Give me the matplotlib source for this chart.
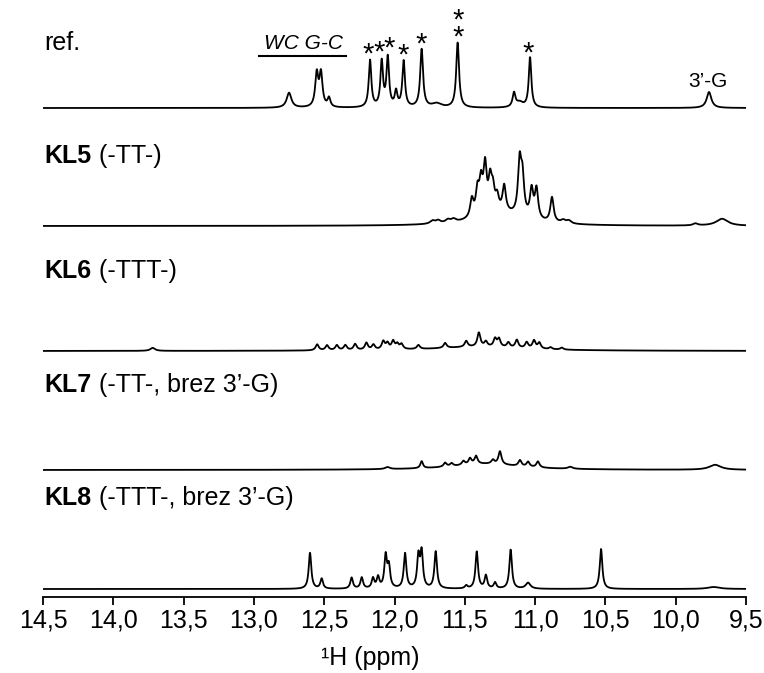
import matplotlib
matplotlib.use("Agg")
import matplotlib.pyplot as plt
import numpy as np

plt.rcParams['font.family'] = ['Liberation Sans', 'DejaVu Sans']

# Peak lists: position (ppm), height, half width (ppm)
ref_ppm = [12.750, 12.553, 12.523, 12.466, 12.174, 12.091, 12.048, 11.989, 11.935,
           11.807, 11.70, 11.551, 11.150, 11.11, 11.036, 9.763]
ref_h = [15, 33, 33, 9, 47, 45, 49, 15, 46, 58, 4, 65, 14, 5, 50, 16]
ref_w = [0.02, 0.013, 0.013, 0.012, 0.011, 0.011, 0.011, 0.011, 0.011,
         0.012, 0.04, 0.012, 0.012, 0.03, 0.011, 0.02]

kl5_ppm = [11.73, 11.69, 11.62, 11.58, 11.45, 11.41, 11.385, 11.356, 11.32, 11.30,
           11.27, 11.22, 11.11, 11.09, 11.025, 10.99, 10.88, 10.80, 10.76, 11.25,
           9.86, 9.67]
kl5_h = [3, 3, 3, 3, 18, 24, 30, 46, 30, 20, 14, 26, 52, 36, 28, 30, 25, 3, 3, 12, 2, 7]
kl5_w = [0.02, 0.02, 0.02, 0.02, 0.014, 0.014, 0.014, 0.014, 0.014, 0.014,
         0.014, 0.014, 0.014, 0.014, 0.014, 0.014, 0.014, 0.02, 0.02, 0.2,
         0.02, 0.05]

kl6_ppm = [13.72, 12.55, 12.48, 12.41, 12.35, 12.28, 12.20, 12.15, 12.08, 12.05,
           12.01, 11.98, 11.95, 11.83, 11.64, 11.49, 11.40, 11.35, 11.285, 11.257,
           11.19, 11.13, 11.06, 11.008, 10.97, 10.89, 10.81, 11.4]
kl6_h = [3, 6, 5, 5, 5, 6, 7, 5, 8, 6, 8, 5, 5, 4, 5, 6, 14, 5, 8, 8,
         5, 8, 6, 8, 6, 2, 2, 4]
kl6_w = [0.02] + [0.013] * 26 + [0.4]

kl7_ppm = [12.05, 11.807, 11.64, 11.594, 11.51, 11.463, 11.42, 11.30, 11.25,
           11.108, 11.05, 10.98, 10.75, 11.35, 9.72]
kl7_h = [2, 7, 4, 3, 4, 6, 8, 4, 13, 6, 5, 6, 2, 6, 5]
kl7_w = [0.02, 0.011, 0.013, 0.013, 0.013, 0.013, 0.013, 0.013, 0.013,
         0.013, 0.013, 0.013, 0.02, 0.3, 0.05]

kl8_ppm = [12.601, 12.518, 12.305, 12.233, 12.153, 12.117, 12.063, 12.04, 11.925,
           11.83, 11.807, 11.707, 11.49, 11.415, 11.35, 11.285, 11.174, 11.05,
           10.531, 9.73]
kl8_h = [36, 10, 11, 11, 10, 11, 32, 21, 35, 31, 35, 37, 3, 37, 13, 6, 39, 6, 40, 2]
kl8_w = [0.011] * 17 + [0.02, 0.011, 0.05]

spectra = [(ref_ppm, ref_h, ref_w), (kl5_ppm, kl5_h, kl5_w), (kl6_ppm, kl6_h, kl6_w),
           (kl7_ppm, kl7_h, kl7_w), (kl8_ppm, kl8_h, kl8_w)]
offsets = [489, 371, 246, 127, 8]

names_bold = ['', 'KL5', 'KL6', 'KL7', 'KL8']
names_rest = ['ref.', ' (-TT-)', ' (-TTT-)', ' (-TT-, brez 3\u2019-G)', ' (-TTT-, brez 3\u2019-G)']
name_y = [547, 434, 319, 205, 92]

# asterisks over the reference spectrum
star_ppm = [12.19, 12.11, 12.04, 11.94, 11.81, 11.55, 11.05]
star_txt = ['*', '*', '*', '*', '*', '*\n*', '*']
star_y = [548, 550, 554, 547, 558, 565, 549]

tick_pos = [14.5, 14.0, 13.5, 13.0, 12.5, 12.0, 11.5, 11.0, 10.5, 10.0, 9.5]
tick_lab = ['14,5', '14,0', '13,5', '13,0', '12,5', '12,0', '11,5', '11,0', '10,5', '10,0', '9,5']

fig = plt.figure(figsize=(7.64, 6.73), dpi=100)
ax = fig.add_axes([43 / 764, 76 / 673, 703 / 764, 597 / 673])

x = np.linspace(14.5, 9.5, 4000)
for (pp, hh, ww), off in zip(spectra, offsets):
    y = np.zeros_like(x)
    for c, h, g in zip(pp, hh, ww):
        y += h / (1 + ((x - c) / g) ** 2)
    ax.plot(x, y + off, color='black', lw=1.3)

for b, r, yy in zip(names_bold, names_rest, name_y):
    if b:
        t = ax.text(14.49, yy, b, fontsize=18, fontweight='bold', va='baseline')
        ax.annotate(r, xy=(1, 0), xycoords=t, fontsize=18, va='bottom')
    else:
        ax.text(14.49, yy, r, fontsize=18, va='baseline')

for sp, st, sy in zip(star_ppm, star_txt, star_y):
    ax.text(sp, sy - 14, st, fontsize=21, ha='center', va='baseline', linespacing=0.5)

ax.text(12.645, 548, 'WC G-C', fontsize=15, style='italic', ha='center', va='baseline')
ax.plot([12.964, 12.345], [541, 541], color='black', lw=1.5)
ax.text(9.77, 510, '3\u2019-G', fontsize=15, ha='center', va='baseline')

ax.set_xlim(14.5, 9.5)
ax.set_ylim(0, 597)
for s in ['left', 'right', 'top']:
    ax.spines[s].set_visible(False)
ax.spines['bottom'].set_linewidth(1.3)
ax.set_yticks([])
ax.set_xticks(tick_pos)
ax.set_xticklabels(tick_lab, fontsize=18)
ax.tick_params(axis='x', direction='out', length=6, width=1.3, pad=2)
ax.set_xlabel('\u00b9H (ppm)', fontsize=18)
ax.xaxis.set_label_coords((370 - 43) / 703, -(658 - 597) / 597)
ax.xaxis.label.set_va('center')

fig.savefig('out.png', dpi=100)
